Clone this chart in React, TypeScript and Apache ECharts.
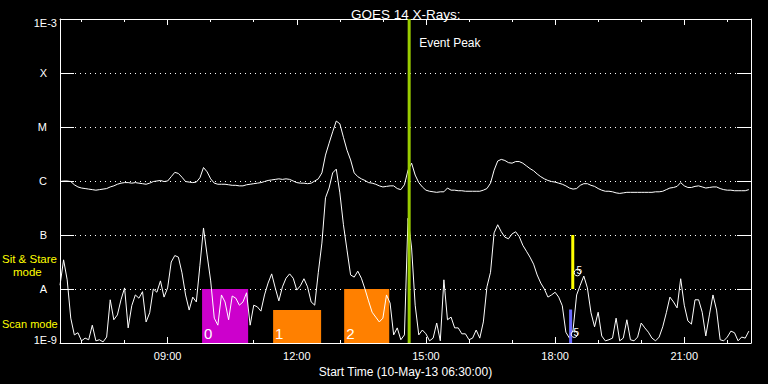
import React, { useEffect, useRef } from 'react';
import * as echarts from 'echarts';

// GOES 14 X-ray flux, log10(W/m^2), sampled every 5 minutes from 06:30 UT
const START_HOUR = 6.5;
const STEP_HOURS = 5 / 60;

// 1.0-8.0 Angstrom channel (upper curve)
const longLogFlux = [
  -6.01, -6.00, -6.00, -6.01, -6.07, -6.11, -6.13, -6.14, -6.15, -6.16,
  -6.17, -6.16, -6.15, -6.14, -6.11, -6.09, -6.06, -6.04, -6.03, -6.03,
  -6.04, -6.03, -6.04, -6.05, -6.06, -6.04, -6.01, -6.00, -5.99, -6.01,
  -6.00, -5.92, -5.84, -5.86, -5.93, -6.01, -6.02, -6.03, -6.02, -5.94,
  -5.75, -5.83, -5.96, -6.04, -6.06, -6.06, -6.06, -6.07, -6.08, -6.08,
  -6.09, -6.09, -6.07, -6.06, -6.05, -6.04, -6.03, -6.01, -5.99, -5.98,
  -5.97, -5.96, -5.97, -5.96, -5.97, -6.00, -6.03, -6.04, -6.04, -6.05,
  -6.04, -6.00, -5.96, -5.85, -5.52, -5.30, -5.09, -4.89, -4.94, -5.19,
  -5.43, -5.61, -5.85, -5.92, -5.96, -5.99, -6.03, -6.04, -6.06, -6.09,
  -6.11, -6.10, -6.09, -6.09, -6.14, -6.16, -6.07, -5.80, -5.67, -5.89,
  -6.03, -6.11, -6.17, -6.19, -6.20, -6.21, -6.20, -6.20, -6.13, -6.17,
  -6.17, -6.18, -6.18, -6.19, -6.19, -6.19, -6.19, -6.19, -6.17, -6.14,
  -6.04, -5.80, -5.63, -5.60, -5.62, -5.66, -5.67, -5.64, -5.64, -5.67,
  -5.72, -5.77, -5.81, -5.87, -5.92, -5.96, -5.99, -6.01, -6.02, -6.04,
  -6.06, -6.09, -6.13, -6.15, -6.14, -6.08, -6.05, -6.05, -6.08, -6.10,
  -6.14, -6.17, -6.19, -6.19, -6.20, -6.22, -6.23, -6.22, -6.21, -6.21,
  -6.21, -6.21, -6.21, -6.21, -6.21, -6.21, -6.20, -6.20, -6.19, -6.16,
  -6.13, -6.12, -6.10, -6.03, -6.09, -6.12, -6.12, -6.10, -6.09, -6.11,
  -6.13, -6.12, -6.11, -6.11, -6.14, -6.16, -6.17, -6.17, -6.18, -6.18,
  -6.18, -6.18, -6.16,
];

// 0.5-4.0 Angstrom channel (lower curve)
const shortLogFlux = [
  -7.93, -7.46, -7.83, -8.54, -8.85, -8.81, -8.96, -8.91, -8.94, -8.67,
  -8.96, -8.94, -8.98, -8.89, -8.20, -8.57, -8.48, -8.20, -7.98, -8.72,
  -8.31, -8.11, -8.17, -8.05, -8.61, -8.44, -8.00, -8.06, -7.85, -8.15,
  -7.98, -7.50, -7.38, -7.41, -7.70, -8.11, -8.39, -8.15, -8.24, -7.56,
  -6.87, -7.37, -7.85, -8.54, -8.67, -8.11, -8.24, -8.57, -8.13, -8.17,
  -8.30, -8.24, -8.07, -8.67, -8.30, -8.33, -8.41, -8.11, -7.89, -7.72,
  -7.98, -8.22, -7.96, -7.80, -7.72, -7.80, -8.02, -7.94, -7.81, -7.96,
  -8.24, -8.30, -7.69, -7.15, -6.31, -6.13, -5.85, -5.78, -6.22, -6.81,
  -7.28, -7.74, -7.78, -7.67, -7.80, -8.00, -8.22, -8.43, -8.52, -8.61,
  -8.54, -8.11, -8.26, -8.85, -8.72, -8.94, -8.85, -6.69, -7.24, -8.30,
  -8.85, -8.76, -8.83, -8.96, -8.91, -8.63, -8.96, -7.83, -8.57, -8.52,
  -8.72, -8.72, -8.83, -8.83, -8.94, -8.91, -8.76, -8.91, -8.61, -7.96,
  -7.69, -6.96, -6.81, -6.94, -7.04, -7.07, -6.98, -6.94, -7.03, -7.19,
  -7.30, -7.41, -7.54, -7.74, -7.89, -8.00, -8.15, -8.11, -8.06, -8.15,
  -8.31, -8.80, -8.91, -8.76, -8.11, -7.93, -7.76, -7.98, -8.44, -8.70,
  -8.43, -8.87, -8.96, -8.94, -8.91, -8.54, -8.96, -8.91, -8.57, -8.94,
  -8.96, -8.89, -8.63, -8.72, -8.80, -8.91, -8.96, -8.89, -8.70, -8.44,
  -8.15, -8.24, -8.35, -7.81, -8.30, -8.59, -8.65, -8.20, -8.20, -8.43,
  -8.87, -8.48, -8.11, -8.39, -8.94, -8.96, -8.89, -8.78, -8.81, -8.96,
  -8.89, -8.91, -8.78,
];

const yTickLabels = ['1E-9', 'A', 'B', 'C', 'M', 'X', '1E-3'];
const majorHours = [9, 12, 15, 18, 21];
const minorHours = [7, 8, 10, 11, 13, 14, 16, 17, 19, 20, 22];

// observation blocks
const blockStarts = [9.8, 11.45, 13.1];
const blockEnds = [10.87, 12.565, 14.147];
const blockTops = [-8, -8.39, -8];
const blockLabels = ['0', '1', '2'];
const blockColors = ['#cc00cc', '#ff8000', '#ff8000'];

const eventPeakHour = 14.61;

// mode bars: [hour, low, high]
const modeBars = [
  [18.41, -8, -7],
  [18.36, -9, -8.38],
];
const modeBarColors = ['#ffff00', '#6a6aff'];

// small "5" markers
const markerPoints = [
  [18.54, -7.66],
  [18.47, -8.8],
];
const markerLabel = '5';

const X_MIN = 6.5;
const X_MAX = 22.55;
const FONT = '"Liberation Sans", Arial, sans-serif';

const hourLabel = (v: number) => `${String(Math.round(v)).padStart(2, '0')}:00`;

export default function App() {
  const ref = useRef<HTMLDivElement>(null);

  useEffect(() => {
    document.body.style.margin = '0';
    document.body.style.background = '#000';
    if (!ref.current) return;
    const chart = echarts.init(ref.current, undefined, { renderer: 'svg' });

    const longData = longLogFlux.map((v, i) => [START_HOUR + i * STEP_HOURS, v]);
    const shortData = shortLogFlux.map((v, i) => [START_HOUR + i * STEP_HOURS, v]);
    const blockData = blockStarts.map((s, i) => [s, blockEnds[i], blockTops[i], -9]);

    const baseX = { type: 'value', min: X_MIN, max: X_MAX, splitLine: { show: false } };

    const option: any = {
      animation: false,
      backgroundColor: '#000',
      textStyle: { fontFamily: FONT },
      title: {
        text: 'GOES 14 X-Rays:',
        left: 346,
        top: 2,
        textStyle: { color: '#fff', fontSize: 13.5, fontWeight: 'normal', fontFamily: FONT },
      },
      grid: { left: 60, right: 17, top: 19, bottom: 41, containLabel: false },
      xAxis: [
        {
          ...baseX,
          position: 'bottom',
          axisLine: { show: true, lineStyle: { color: '#fff', width: 1 } },
          axisTick: { show: true, inside: true, length: 6, customValues: majorHours, lineStyle: { color: '#fff' } },
          axisLabel: {
            show: true,
            customValues: majorHours,
            formatter: hourLabel,
            color: '#fff',
            fontSize: 11,
            margin: 7,
            fontFamily: FONT,
          },
          name: 'Start Time (10-May-13 06:30:00)',
          nameLocation: 'middle',
          nameGap: 19,
          nameTextStyle: { color: '#fff', fontSize: 12, fontFamily: FONT },
        },
        {
          ...baseX,
          position: 'bottom',
          axisLine: { show: false },
          axisTick: { show: true, inside: true, length: 3, customValues: minorHours, lineStyle: { color: '#fff' } },
          axisLabel: { show: false },
        },
        {
          ...baseX,
          position: 'top',
          axisLine: { show: true, lineStyle: { color: '#fff', width: 1 } },
          axisTick: { show: true, inside: true, length: 6, customValues: majorHours, lineStyle: { color: '#fff' } },
          axisLabel: { show: false },
        },
        {
          ...baseX,
          position: 'top',
          axisLine: { show: false },
          axisTick: { show: true, inside: true, length: 3, customValues: minorHours, lineStyle: { color: '#fff' } },
          axisLabel: { show: false },
        },
      ],
      yAxis: [
        {
          type: 'value',
          min: -9,
          max: -3,
          interval: 1,
          position: 'left',
          axisLine: { show: true, lineStyle: { color: '#fff', width: 1 } },
          axisTick: { show: true, inside: true, length: 14, lineStyle: { color: '#fff' } },
          axisLabel: {
            show: true,
            margin: 3,
            color: '#fff',
            fontSize: 11,
            fontFamily: FONT,
            formatter: (v: number) => {
              const lab = yTickLabels[Math.round(v + 9)];
              if (Math.round(v) === -3) return `{top|${lab}}`;
              if (Math.round(v) === -9) return `{bot|${lab}}`;
              return `{let|${lab}}`;
            },
            rich: {
              top: { color: '#fff', fontSize: 11, fontFamily: FONT, padding: [8, 0, 0, 0] },
              bot: { color: '#fff', fontSize: 11, fontFamily: FONT, padding: [0, 0, 6, 0] },
              let: { color: '#fff', fontSize: 11, fontFamily: FONT, padding: [0, 10, 0, 0] },
            },
          },
          splitLine: { show: true, lineStyle: { color: '#fff', width: 1, type: [1, 4] } },
        },
        {
          type: 'value',
          min: -9,
          max: -3,
          interval: 1,
          position: 'right',
          axisLine: { show: true, lineStyle: { color: '#fff', width: 1 } },
          axisTick: { show: true, inside: true, length: 14, lineStyle: { color: '#fff' } },
          axisLabel: { show: false },
          splitLine: { show: false },
        },
      ],
      graphic: [
        {
          type: 'text',
          x: 2,
          y: 258.5,
          style: { text: 'Sit & Stare', fill: '#ffff00', font: `11.5px ${FONT}`, lineHeight: 12, textAlign: 'left', textVerticalAlign: 'middle', align: 'left', verticalAlign: 'middle' },
        },
        {
          type: 'text',
          x: 13,
          y: 271.5,
          style: { text: 'mode', fill: '#ffff00', font: `11.5px ${FONT}`, lineHeight: 12, textAlign: 'left', textVerticalAlign: 'middle', align: 'left', verticalAlign: 'middle' },
        },
        {
          type: 'text',
          x: 2,
          y: 324,
          style: { text: 'Scan mode', fill: '#ffff00', font: `11px ${FONT}`, textAlign: 'left', textVerticalAlign: 'middle', align: 'left', verticalAlign: 'middle' },
        },
      ],
      series: [
        {
          type: 'custom',
          name: 'blocks',
          z: 1,
          xAxisIndex: 0,
          yAxisIndex: 0,
          encode: { x: [0, 1], y: [2, 3] },
          data: blockData,
          renderItem: (params: any, api: any) => {
            const i = params.dataIndex;
            const a = api.coord([api.value(0), api.value(2)]);
            const b = api.coord([api.value(1), api.value(3)]);
            return {
              type: 'group',
              children: [
                {
                  type: 'rect',
                  shape: { x: a[0], y: a[1], width: b[0] - a[0], height: b[1] - a[1] },
                  style: { fill: blockColors[i] },
                },
                {
                  type: 'text',
                  x: a[0] + 2,
                  y: b[1] - 2,
                  style: {
                    text: blockLabels[i],
                    fill: '#fff',
                    font: `15px ${FONT}`,
                    textAlign: 'left',
                    textVerticalAlign: 'bottom',
                    align: 'left',
                    verticalAlign: 'bottom',
                  },
                },
              ],
            };
          },
        },
        {
          type: 'line',
          name: 'long',
          z: 3,
          xAxisIndex: 0,
          yAxisIndex: 0,
          data: longData,
          showSymbol: false,
          symbol: 'none',
          lineStyle: { color: '#fff', width: 1 },
        },
        {
          type: 'line',
          name: 'short',
          z: 3,
          xAxisIndex: 0,
          yAxisIndex: 0,
          data: shortData,
          showSymbol: false,
          symbol: 'none',
          lineStyle: { color: '#fff', width: 1 },
        },
        {
          type: 'custom',
          name: 'modeBars',
          z: 4,
          encode: { x: 0, y: [1, 2] },
          data: modeBars,
          renderItem: (params: any, api: any) => {
            const i = params.dataIndex;
            const lo = api.coord([api.value(0), api.value(1)]);
            const hi = api.coord([api.value(0), api.value(2)]);
            return {
              type: 'rect',
              shape: { x: lo[0] - 1.5, y: hi[1], width: 3, height: lo[1] - hi[1] },
              style: { fill: modeBarColors[i] },
            };
          },
        },
        {
          type: 'custom',
          name: 'markers',
          z: 6,
          encode: { x: 0, y: 1 },
          data: markerPoints,
          renderItem: (params: any, api: any) => {
            const p = api.coord([api.value(0), api.value(1)]);
            return {
              type: 'group',
              children: [
                {
                  type: 'circle',
                  shape: { cx: p[0] - 1, cy: p[1] + 2, r: 3.2 },
                  style: { fill: 'none', stroke: '#fff', lineWidth: 1 },
                },
                {
                  type: 'text',
                  x: p[0] + 1,
                  y: p[1],
                  style: {
                    text: markerLabel,
                    fill: '#fff',
                    font: `10px ${FONT}`,
                    textAlign: 'center',
                    textVerticalAlign: 'middle',
                    align: 'center',
                    verticalAlign: 'middle',
                  },
                },
              ],
            };
          },
        },
        {
          type: 'custom',
          name: 'event',
          z: 5,
          encode: { x: 0, y: [1, 2] },
          data: [[eventPeakHour, -3, -9]],
          renderItem: (params: any, api: any) => {
            const top = api.coord([api.value(0), api.value(1)]);
            const bot = api.coord([api.value(0), api.value(2)]);
            return {
              type: 'group',
              children: [
                {
                  type: 'line',
                  shape: { x1: top[0], y1: top[1], x2: bot[0], y2: bot[1] },
                  style: { stroke: '#99cc00', lineWidth: 3 },
                },
                {
                  type: 'text',
                  x: top[0] + 10,
                  y: top[1] + 24,
                  style: {
                    text: 'Event Peak',
                    fill: '#fff',
                    font: `12px ${FONT}`,
                    textAlign: 'left',
                    textVerticalAlign: 'middle',
                    align: 'left',
                    verticalAlign: 'middle',
                  },
                },
              ],
            };
          },
        },
      ],
    };

    chart.setOption(option);
    return () => {
      chart.dispose();
    };
  }, []);

  return (
    <div
      ref={ref}
      style={{ position: 'absolute', left: 0, top: 0, width: 768, height: 384, background: '#000' }}
    />
  );
}
